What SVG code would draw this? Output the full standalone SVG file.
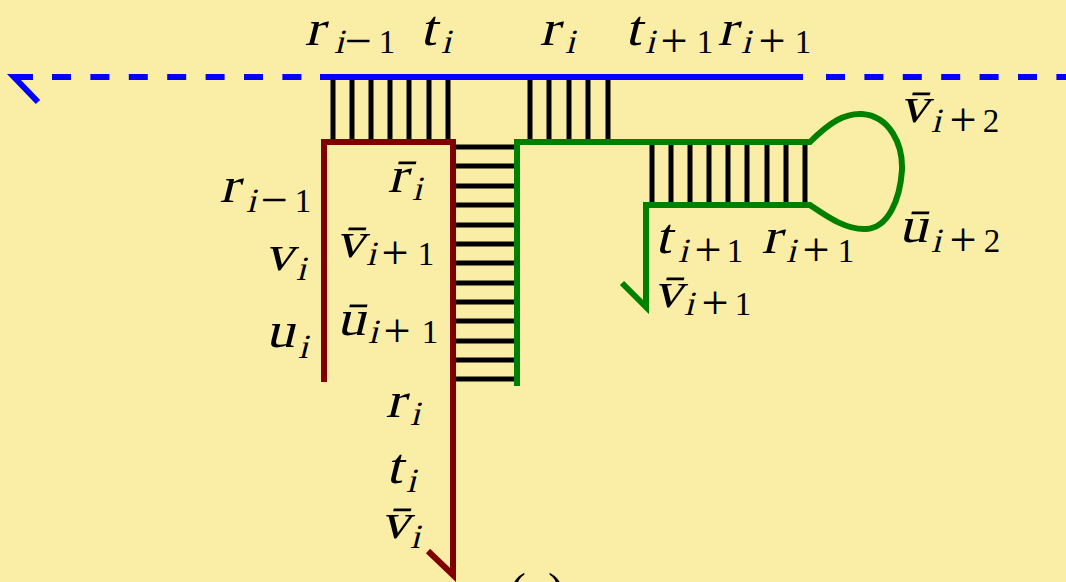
<svg xmlns="http://www.w3.org/2000/svg" width="1066" height="582" viewBox="0 0 1066 582">
<style>
.bg{fill:#FAEEA7}
.blue{stroke:#0000FF;stroke-width:6;fill:none}
.dash{stroke-dasharray:19 19.4}
.brown{stroke:#800000;stroke-width:6;fill:none;stroke-linejoin:miter}
.green{stroke:#008000;stroke-width:6;fill:none;stroke-linejoin:miter}
.rung{stroke:#000;stroke-width:5}
text{font-family:'Liberation Serif','Times New Roman',serif;font-style:normal;fill:#000;text-anchor:middle}
.m{font-size:50px}
.s{font-size:34px}
.d{font-size:33px}
.o{font-size:48px}
</style>
<rect class="bg" x="0" y="0" width="1066" height="582"/>

<g id="connectors">
  <g id="rungs-top-left">
    <line class="rung" x1="333" y1="80" x2="333" y2="139"/>
    <line class="rung" x1="352" y1="80" x2="352" y2="139"/>
    <line class="rung" x1="371" y1="80" x2="371" y2="139"/>
    <line class="rung" x1="390" y1="80" x2="390" y2="139"/>
    <line class="rung" x1="409" y1="80" x2="409" y2="139"/>
    <line class="rung" x1="429" y1="80" x2="429" y2="139"/>
    <line class="rung" x1="448" y1="80" x2="448" y2="139"/>
  </g>
  <g id="rungs-top-mid">
    <line class="rung" x1="530" y1="80" x2="530" y2="139"/>
    <line class="rung" x1="549" y1="80" x2="549" y2="139"/>
    <line class="rung" x1="569" y1="80" x2="569" y2="139"/>
    <line class="rung" x1="588" y1="80" x2="588" y2="139"/>
    <line class="rung" x1="608" y1="80" x2="608" y2="139"/>
  </g>
  <g id="rungs-green">
    <line class="rung" x1="652" y1="145" x2="652" y2="203"/>
    <line class="rung" x1="671" y1="145" x2="671" y2="203"/>
    <line class="rung" x1="690" y1="145" x2="690" y2="203"/>
    <line class="rung" x1="709" y1="145" x2="709" y2="203"/>
    <line class="rung" x1="728" y1="145" x2="728" y2="203"/>
    <line class="rung" x1="747" y1="145" x2="747" y2="203"/>
    <line class="rung" x1="767" y1="145" x2="767" y2="203"/>
    <line class="rung" x1="786" y1="145" x2="786" y2="203"/>
    <line class="rung" x1="805" y1="145" x2="805" y2="203"/>
  </g>
  <g id="rungs-horizontal">
    <line class="rung" x1="456" y1="147" x2="515" y2="147"/>
    <line class="rung" x1="456" y1="166" x2="515" y2="166"/>
    <line class="rung" x1="456" y1="186" x2="515" y2="186"/>
    <line class="rung" x1="456" y1="205" x2="515" y2="205"/>
    <line class="rung" x1="456" y1="225" x2="515" y2="225"/>
    <line class="rung" x1="456" y1="244" x2="515" y2="244"/>
    <line class="rung" x1="456" y1="263" x2="515" y2="263"/>
    <line class="rung" x1="456" y1="283" x2="515" y2="283"/>
    <line class="rung" x1="456" y1="302" x2="515" y2="302"/>
    <line class="rung" x1="456" y1="321" x2="515" y2="321"/>
    <line class="rung" x1="456" y1="341" x2="515" y2="341"/>
    <line class="rung" x1="456" y1="360" x2="515" y2="360"/>
    <line class="rung" x1="456" y1="379" x2="515" y2="379"/>
  </g>
</g>

<g id="strand-blue">
  <polyline class="blue" points="38,102 14,77 33,77" style="stroke-linejoin:miter"/>
  <line class="blue dash" x1="52" y1="77" x2="320" y2="77"/>
  <line class="blue" x1="320" y1="77" x2="803" y2="77"/>
  <line class="blue dash" x1="826" y1="77" x2="1066" y2="77"/>
</g>

<g id="strand-brown">
  <path class="brown" d="M324,382 V142 H453 V575 L428,551"/>
</g>

<g id="strand-green">
  <path class="green" d="M517,386 V142 H810 C830,122 845,113 862,114 C890,116 903,145 902,170 C900,200 888,228 866,229 C845,230 825,215 810,205 H646 V307 L622,283"/>
</g>

<!-- top labels -->
<g id="label-top-r-im1">
  <text class="m" transform="translate(314,45) skewX(-14) scale(1.15,1)">r</text>
  <text class="s" transform="translate(339,53) skewX(-14) scale(1.05,1)">i</text>
  <text class="o" x="358" y="57">−</text>
  <text class="d" x="387" y="53">1</text>
</g>
<g id="label-top-t-i">
  <text class="m" transform="translate(428,45) skewX(-14) scale(1.15,1)">t</text>
  <text class="s" transform="translate(446,53) skewX(-14) scale(1.05,1)">i</text>
</g>
<g id="label-top-r-i">
  <text class="m" transform="translate(549,45) skewX(-14) scale(1.15,1)">r</text>
  <text class="s" transform="translate(570,53) skewX(-14) scale(1.05,1)">i</text>
</g>
<g id="label-top-t-ip1-r-ip1">
  <text class="m" transform="translate(633,45) skewX(-14) scale(1.15,1)">t</text>
  <text class="s" transform="translate(650,53) skewX(-14) scale(1.05,1)">i</text>
  <text class="o" x="674" y="57">+</text>
  <text class="d" x="705" y="53">1</text>
  <text class="m" transform="translate(727,45) skewX(-14) scale(1.15,1)">r</text>
  <text class="s" transform="translate(746,53) skewX(-14) scale(1.05,1)">i</text>
  <text class="o" x="772" y="57">+</text>
  <text class="d" x="803" y="53">1</text>
</g>

<!-- loop labels -->
<g id="label-vbar-ip2">
  <text class="m" transform="translate(914,122) skewX(-14) scale(1.15,1)">v̄</text>
  <text class="s" transform="translate(936,132) skewX(-14) scale(1.05,1)">i</text>
  <text class="o" x="963" y="136">+</text>
  <text class="d" x="991" y="132">2</text>
</g>
<g id="label-ubar-ip2">
  <text class="m" transform="translate(913,242) skewX(-14) scale(1.15,1)">ū</text>
  <text class="s" transform="translate(936,252) skewX(-14) scale(1.05,1)">i</text>
  <text class="o" x="963" y="256">+</text>
  <text class="d" x="992" y="252">2</text>
</g>

<!-- left labels -->
<g id="label-left-r-im1">
  <text class="m" transform="translate(229,202) skewX(-14) scale(1.15,1)">r</text>
  <text class="s" transform="translate(251,212) skewX(-14) scale(1.05,1)">i</text>
  <text class="o" x="274" y="216">−</text>
  <text class="d" x="303" y="212">1</text>
</g>
<g id="label-left-v-i">
  <text class="m" transform="translate(279,270) skewX(-14) scale(1.15,1)">v</text>
  <text class="s" transform="translate(301,280) skewX(-14) scale(1.05,1)">i</text>
</g>
<g id="label-left-u-i">
  <text class="m" transform="translate(280,347) skewX(-14) scale(1.15,1)">u</text>
  <text class="s" transform="translate(303,358) skewX(-14) scale(1.05,1)">i</text>
</g>

<!-- inner labels -->
<g id="label-inner-rbar-i">
  <text class="m" transform="translate(397,192) skewX(-14) scale(1.15,1)">r̄</text>
  <text class="s" transform="translate(417,200) skewX(-14) scale(1.05,1)">i</text>
</g>
<g id="label-inner-vbar-ip1">
  <text class="m" transform="translate(350,257) skewX(-14) scale(1.15,1)">v̄</text>
  <text class="s" transform="translate(371,265) skewX(-14) scale(1.05,1)">i</text>
  <text class="o" x="395" y="269">+</text>
  <text class="d" x="426" y="265">1</text>
</g>
<g id="label-inner-ubar-ip1">
  <text class="m" transform="translate(351,335) skewX(-14) scale(1.15,1)">ū</text>
  <text class="s" transform="translate(373,343) skewX(-14) scale(1.05,1)">i</text>
  <text class="o" x="397" y="347">+</text>
  <text class="d" x="430" y="343">1</text>
</g>

<!-- bottom labels -->
<g id="label-bottom-r-i">
  <text class="m" transform="translate(395,417) skewX(-14) scale(1.15,1)">r</text>
  <text class="s" transform="translate(415,425) skewX(-14) scale(1.05,1)">i</text>
</g>
<g id="label-bottom-t-i">
  <text class="m" transform="translate(394,483) skewX(-14) scale(1.15,1)">t</text>
  <text class="s" transform="translate(411,492) skewX(-14) scale(1.05,1)">i</text>
</g>
<g id="label-bottom-vbar-i">
  <text class="m" transform="translate(395,538) skewX(-14) scale(1.15,1)">v̄</text>
  <text class="s" transform="translate(415,548) skewX(-14) scale(1.05,1)">i</text>
</g>
<g id="label-caption">
  <text class="m" x="537" y="608">(a)</text>
</g>

<!-- green labels -->
<g id="label-green-t-ip1">
  <text class="m" transform="translate(663,253) skewX(-14) scale(1.15,1)">t</text>
  <text class="s" transform="translate(683,262) skewX(-14) scale(1.05,1)">i</text>
  <text class="o" x="708" y="266">+</text>
  <text class="d" x="735" y="262">1</text>
</g>
<g id="label-green-r-ip1">
  <text class="m" transform="translate(771,253) skewX(-14) scale(1.15,1)">r</text>
  <text class="s" transform="translate(791,262) skewX(-14) scale(1.05,1)">i</text>
  <text class="o" x="816" y="266">+</text>
  <text class="d" x="846" y="262">1</text>
</g>
<g id="label-green-vbar-ip1">
  <text class="m" transform="translate(668,307) skewX(-14) scale(1.15,1)">v̄</text>
  <text class="s" transform="translate(689,315) skewX(-14) scale(1.05,1)">i</text>
  <text class="o" x="715" y="319">+</text>
  <text class="d" x="743" y="315">1</text>
</g>
</svg>
